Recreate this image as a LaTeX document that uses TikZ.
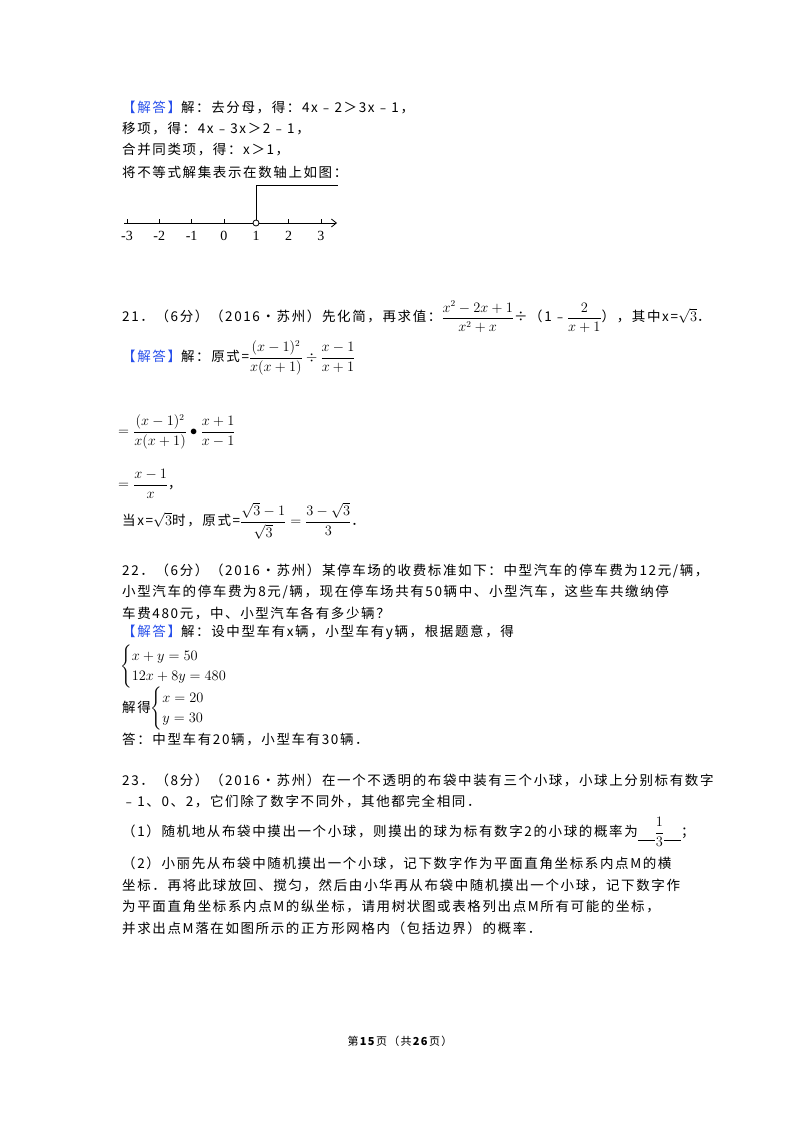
\documentclass[tikz,border=0pt]{standalone}
\usepackage{amsmath}
\usepackage{fontspec}
\setmainfont[LetterSpace=12]{Noto Sans CJK SC}
\newfontfamily\lat{Liberation Serif}
\usetikzlibrary{arrows.meta}
\definecolor{ansblue}{RGB}{40,80,235}
\begin{document}
\begin{tikzpicture}[x=1pt,y=-1pt,
  tl/.style={anchor=west,inner sep=0pt,font=\fontsize{13.5}{16}\selectfont},
  lbl/.style={inner sep=0pt,font=\lat\fontsize{14}{16}\selectfont}]
\useasboundingbox[fill=white] (0,0) rectangle (800,1132);
\newcommand\jd{{\color{ansblue}【解答】}}
\newcommand\blank{\rule[-4pt]{17pt}{0.7pt}}
% Q20 answer
\node[tl] (l1) at (122,108) {\jd 解：去分母，得：4x﹣2＞3x﹣1，};
\node[tl] (l2) at (122,129) {移项，得：4x﹣3x＞2﹣1，};
\node[tl] (l3) at (122,150) {合并同类项，得：x＞1，};
\node[tl] (l4) at (122,172) {将不等式解集表示在数轴上如图：};
% number line
\coordinate (a0) at (124,223);
\coordinate (a1) at (337,223);
\draw[line width=0.8pt,-{Straight Barb[length=5pt,width=8pt]}] (a0) -- (a1);
\foreach \v [count=\i from 0] in {-3,-2,-1,0,1,2,3}{
  \draw[line width=0.5pt] (127+32.3*\i,219) -- (127+32.3*\i,223);
  \node[lbl] (t\i) at (127+32.3*\i,236) {\v};
}
\node[circle,draw,line width=0.8pt,fill=white,inner sep=0pt,minimum size=6pt] (c) at (256,223) {};
\coordinate (up) at (256,185);
\coordinate (ur) at (338,185);
\draw[line width=0.8pt] (c.north) -- (up) -- (ur);
% Q21
\node[tl] (q21) at (122,317) {21．（6分）（2016•苏州）先化简，再求值：$\dfrac{x^2-2x+1}{x^2+x}$÷（1﹣$\dfrac{2}{x+1}$），其中x=$\sqrt{3}$．};
\node[tl] (s1) at (122,358) {\jd 解：原式=$\dfrac{(x-1)^2}{x(x+1)}\div\dfrac{x-1}{x+1}$};
\node[tl] (s2) at (118,432) {$=\dfrac{(x-1)^2}{x(x+1)}\bullet\dfrac{x+1}{x-1}$};
\node[tl] (s3) at (118,484) {$=\dfrac{x-1}{x}$，};
\node[tl] (s4) at (122,521) {当x=$\sqrt{3}$时，原式=$\dfrac{\sqrt{3}-1}{\sqrt{3}}=\dfrac{3-\sqrt{3}}{3}$．};
% Q22
\node[tl] (q22a) at (122,571) {22．（6分）（2016•苏州）某停车场的收费标准如下：中型汽车的停车费为12元/辆，};
\node[tl] (q22b) at (122,592) {小型汽车的停车费为8元/辆，现在停车场共有50辆中、小型汽车，这些车共缴纳停};
\node[tl] (q22c) at (122,613) {车费480元，中、小型汽车各有多少辆？};
\node[tl] (q22d) at (122,632) {\jd 解：设中型车有x辆，小型车有y辆，根据题意，得};
\node[tl] (sys1) at (120,667) {$\begin{cases}x+y=50\\[1pt]12x+8y=480\end{cases}$};
\node[tl] (sys2) at (122,709) {解得$\begin{cases}x=20\\[1pt]y=30\end{cases}$};
\node[tl] (ans22) at (122,740) {答：中型车有20辆，小型车有30辆．};
% Q23
\node[tl] (q23a) at (122,780) {23．（8分）（2016•苏州）在一个不透明的布袋中装有三个小球，小球上分别标有数字};
\node[tl] (q23b) at (122,801) {﹣1、0、2，它们除了数字不同外，其他都完全相同．};
\node[tl] (q23c) at (122,832) {（1）随机地从布袋中摸出一个小球，则摸出的球为标有数字2的小球的概率为\blank$\dfrac{1}{3}$\blank；};
\node[tl] (q23d) at (122,863) {（2）小丽先从布袋中随机摸出一个小球，记下数字作为平面直角坐标系内点M的横};
\node[tl] (q23e) at (122,885) {坐标．再将此球放回、搅匀，然后由小华再从布袋中随机摸出一个小球，记下数字作};
\node[tl] (q23f) at (122,907) {为平面直角坐标系内点M的纵坐标，请用树状图或表格列出点M所有可能的坐标，};
\node[tl] (q23g) at (122,928) {并求出点M落在如图所示的正方形网格内（包括边界）的概率．};
% footer
\node[inner sep=0pt,font=\fontsize{11}{13}\selectfont] (foot) at (400,1041) {第\textbf{15}页（共\textbf{26}页）};
\end{tikzpicture}
\end{document}
